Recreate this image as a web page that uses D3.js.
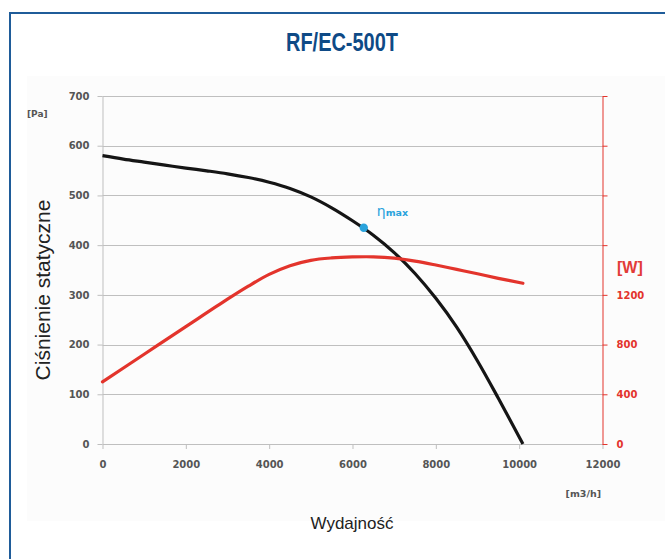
<!DOCTYPE html>
<html>
<head>
<meta charset="utf-8">
<script src="https://cdn.jsdelivr.net/npm/d3@7"></script>
<style>
  html, body { margin: 0; padding: 0; background: #fff; }
  svg { display: block; }
</style>
</head>
<body>
<svg id="chart" width="665" height="559"></svg>
<script>
// ---- data ----
const title = "RF/EC-500T";
const flowTicks = [0, 2000, 4000, 6000, 8000, 10000, 12000];
const pressureTicks = [0, 100, 200, 300, 400, 500, 600, 700];
const powerTicks = [0, 400, 800, 1200, 1600, 2000, 2400, 2800];
const powerTickLabels = ["0", "400", "800", "1200", "", "", "", ""];

const pressureFlow =   [0,   500, 1000, 1500, 2000, 2500,  3000,  3500, 4000,  4500, 5000, 5500, 6000, 6500, 7000, 7500, 8000, 8500, 9000, 9500, 10090];
const pressureValues = [580, 573, 567,  561,  555,  549.5, 543.5, 536,  526.5, 514,  497,  475,  449,  420,  385,  343,  293,  235,  167,  92,   0];

const powerFlow =   [0,   1000, 2000, 3000, 3500, 4000, 4500, 5000, 5500, 6000, 6500, 7000, 7500, 8000, 8500, 9000, 9500, 10090];
const powerValues = [500, 722,  944,  1165, 1270, 1365, 1435, 1478, 1497, 1505, 1506, 1496, 1472, 1440, 1405, 1370, 1333, 1293];

const etaFlow = [6270];
const etaPressure = [435];

const yLabel = "Ciśnienie statyczne";
const xLabel = "Wydajność";

// ---- chart ----
const svg = d3.select("#chart");
const W = 665, H = 559;
const pLeft = 102.5, pRight = 602.5, pTop = 96, pBottom = 444;

const x = d3.scaleLinear().domain([0, 12000]).range([pLeft, pRight]);
const y = d3.scaleLinear().domain([0, 700]).range([pBottom, pTop]);
const yR = d3.scaleLinear().domain([0, 2800]).range([pBottom, pTop]);

// background panel
svg.append("rect").attr("x", 27).attr("y", 76).attr("width", W - 27).attr("height", 445)
  .attr("fill", "#fcfcfc");
// frame
svg.append("rect").attr("x", 10).attr("y", 13).attr("width", W + 20).attr("height", H + 20)
  .attr("fill", "none").attr("stroke", "#1f5c99").attr("stroke-width", 2);

// title
svg.append("text").attr("x", 342).attr("y", 51).attr("text-anchor", "middle")
  .attr("font-family", "'Liberation Sans Narrow', 'Liberation Sans', Arial, sans-serif")
  .attr("font-weight", "bold").attr("font-size", 26).attr("fill", "#0e4a86")
  .attr("textLength", 112).attr("lengthAdjust", "spacingAndGlyphs")
  .text(title);

// gridlines
svg.append("g").selectAll("line").data(pressureTicks.filter(d => d > 0)).join("line")
  .attr("x1", pLeft).attr("x2", pRight)
  .attr("y1", d => Math.round(y(d)) + 0.5).attr("y2", d => Math.round(y(d)) + 0.5)
  .attr("stroke", "#bfbfbf").attr("stroke-width", 1);

const tickFont = "'DejaVu Sans', Verdana, sans-serif";

// left axis
const gL = svg.append("g").attr("transform", `translate(${pLeft},0)`)
  .call(d3.axisLeft(y).tickValues(pressureTicks).tickSize(5).tickPadding(8).tickSizeOuter(0));
gL.select(".domain").attr("stroke", "#bfbfbf");
gL.selectAll(".tick line").attr("stroke", "#bfbfbf");
gL.selectAll(".tick text").attr("fill", "#555").attr("font-family", tickFont)
  .attr("font-weight", "bold").attr("font-size", 10);

// bottom axis
const gB = svg.append("g").attr("transform", `translate(0,${pBottom})`)
  .call(d3.axisBottom(x).tickValues(flowTicks).tickFormat(d3.format("d")).tickSize(5).tickPadding(12).tickSizeOuter(0));
gB.select(".domain").attr("stroke", "#bfbfbf");
gB.selectAll(".tick line").attr("stroke", "#bfbfbf");
gB.selectAll(".tick text").attr("fill", "#555").attr("font-family", tickFont)
  .attr("font-weight", "bold").attr("font-size", 10);

// right axis
const red = "#e3342c";
const gR = svg.append("g").attr("transform", `translate(${pRight},0)`)
  .call(d3.axisRight(yR).tickValues(powerTicks).tickFormat((d, i) => powerTickLabels[i]).tickSize(5).tickPadding(9).tickSizeOuter(0));
gR.select(".domain").attr("stroke", red);
gR.selectAll(".tick line").attr("stroke", red);
gR.selectAll(".tick text").attr("fill", red).attr("font-family", tickFont)
  .attr("font-weight", "bold").attr("font-size", 10);

// unit labels
svg.append("text").attr("x", 27).attr("y", 117).attr("font-family", tickFont)
  .attr("font-weight", "bold").attr("font-size", 9).attr("fill", "#555").text("[Pa]");
svg.append("text").attr("x", 601).attr("y", 497).attr("text-anchor", "end").attr("font-family", tickFont)
  .attr("font-weight", "bold").attr("font-size", 9.5).attr("fill", "#555").text("[m3/h]");
svg.append("text").attr("x", 617).attr("y", 273).attr("font-family", "'Liberation Sans', Arial, sans-serif")
  .attr("font-weight", "bold").attr("font-size", 16).attr("fill", "#e23b38").text("[W]");

// axis titles
svg.append("text").attr("transform", "translate(50,290) rotate(-90)").attr("text-anchor", "middle")
  .attr("font-family", "'Liberation Sans', Arial, sans-serif").attr("font-size", 21).attr("fill", "#222")
  .text(yLabel);
svg.append("text").attr("x", 352).attr("y", 529).attr("text-anchor", "middle")
  .attr("font-family", "'Liberation Sans', Arial, sans-serif").attr("font-size", 17).attr("fill", "#222")
  .text(xLabel);

// lines
const pressureData = pressureFlow.map((f, i) => [f, pressureValues[i]]);
const powerData = powerFlow.map((f, i) => [f, powerValues[i]]);

svg.append("path").datum(pressureData)
  .attr("d", d3.line().x(d => x(d[0])).y(d => y(d[1])).curve(d3.curveCatmullRom.alpha(0.5)))
  .attr("fill", "none").attr("stroke", "#151515").attr("stroke-width", 3.2).attr("stroke-linecap", "butt");

svg.append("path").datum(powerData)
  .attr("d", d3.line().x(d => x(d[0])).y(d => yR(d[1])).curve(d3.curveCatmullRom.alpha(0.5)))
  .attr("fill", "none").attr("stroke", red).attr("stroke-width", 3.2).attr("stroke-linecap", "round");

// eta max point
const blue = "#2aa3dc";
svg.append("g").selectAll("circle").data(etaFlow.map((f, i) => [f, etaPressure[i]])).join("circle")
  .attr("cx", d => x(d[0])).attr("cy", d => y(d[1])).attr("r", 4.2).attr("fill", blue);

const eta = svg.append("text").attr("x", x(etaFlow[0]) + 13).attr("y", y(etaPressure[0]) - 12)
  .attr("font-family", "'DejaVu Sans', sans-serif").attr("fill", blue);
eta.append("tspan").attr("font-size", 14).text("η");
eta.append("tspan").attr("font-size", 9.5).attr("font-weight", "bold").text("max");
</script>
</body>
</html>
